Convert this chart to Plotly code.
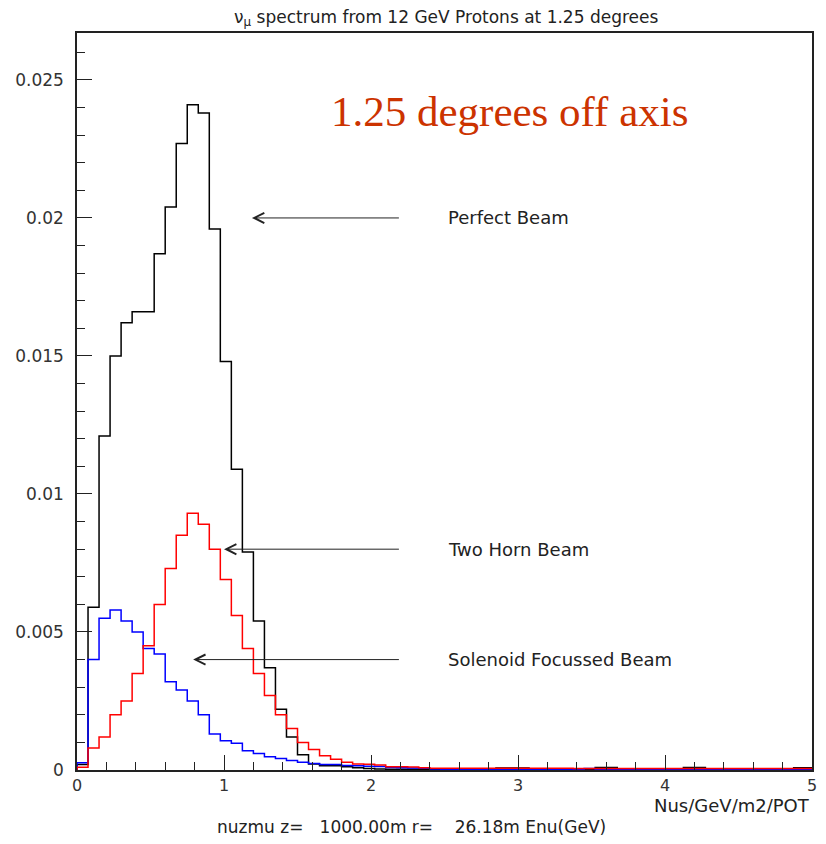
import numpy as np
import plotly.graph_objects as go

bin_width = 0.075  # GeV

perfect_beam = [0.0002, 0.0059, 0.0121, 0.0150, 0.0162, 0.0166, 0.0166, 0.0187, 0.0204, 0.0227,
                0.0241, 0.0238, 0.0196, 0.0148, 0.0109, 0.0079, 0.0054, 0.0037, 0.0022, 0.0012,
                0.00055, 0.00022, 0.00015, 0.00015, 0.00012, 0.00008, 0.00005, 0.00004, 0.00003, 0.00003,
                0.00003, 0.00003, 0.00003, 0.00003, 0.00003, 0.00003, 0.00003, 0.00003, 0.00007, 0.00007,
                0.00007, 0.00003, 0.00003, 0.00003, 0.00003, 0.00003, 0.00003, 0.00009, 0.00009, 0.00003,
                0.00003, 0.00003, 0.00003, 0.00003, 0.00003, 0.00009, 0.00009, 0.00003, 0.00003, 0.00003,
                0.00003, 0.00003, 0.00003, 0.00003, 0.00003, 0.00008, 0.00008]

two_horn_beam = [0.0001, 0.0008, 0.0012, 0.0020, 0.0025, 0.0035, 0.0045, 0.0060, 0.0073, 0.0085,
                 0.0093, 0.0089, 0.0080, 0.0069, 0.0056, 0.0044, 0.0035, 0.0027, 0.0020, 0.0015,
                 0.0010, 0.00074, 0.00052, 0.00039, 0.00028, 0.00022, 0.00021, 0.00018, 0.00012, 0.00012,
                 0.00011, 0.00008, 0.00006, 0.00006, 0.00006, 0.00006, 0.00006, 0.00006, 0.00006, 0.00006,
                 0.00006, 0.00006, 0.00006, 0.00006, 0.00006, 0.00005, 0.00005, 0.00005, 0.00005, 0.00005,
                 0.00005, 0.00005, 0.00005, 0.00005, 0.00005, 0.00005, 0.00005, 0.00005, 0.00005, 0.00005,
                 0.00005, 0.00005, 0.00005, 0.00005, 0.00005, 0.00005, 0.00005]

solenoid_beam = [0.00026, 0.0040, 0.0055, 0.0058, 0.0054, 0.0050, 0.0044, 0.0042, 0.0032, 0.0029,
                 0.0025, 0.0020, 0.0013, 0.00106, 0.00097, 0.0007, 0.0006, 0.00048, 0.00042, 0.00034,
                 0.00028, 0.00024, 0.0002, 0.0002, 0.00016, 0.00015, 0.00014, 0.00013, 0.00009, 0.00008,
                 0.00007, 0.00006, 0.00004, 0.00003, 0.00003, 0.00003, 0.00003, 0.00003, 0.00003, 0.00003,
                 0.00003, 0.00003, 0.00003, 0.00003, 0.00003, 0.00003, 0.00005, 0.00002, 0.00002, 0.00002,
                 0.00002, 0.00002, 0.00002, 0.00002, 0.00002, 0.00002, 0.00002, 0.00002, 0.00002, 0.00002,
                 0.00002, 0.00002, 0.00002, 0.00002, 0.00002, 0.00002, 0.00002]

labels = ["Perfect Beam", "Two Horn Beam", "Solenoid Focussed Beam"]
label_y = [0.020, 0.008, 0.004]
arrow_tip_x = [1.19, 1.0, 0.79]
arrow_tail_x = 2.2
label_x = 2.51

x_tickvals = [0, 1, 2, 3, 4, 5]
y_tickvals = [0, 0.005, 0.01, 0.015, 0.02, 0.025]
y_ticktext = ["0", "0.005", "0.01", "0.015", "0.02", "0.025"]


def step_xy(vals):
    n = len(vals)
    edges = np.arange(n + 1) * bin_width
    xs = [0.0] + list(edges)
    ys = [0.0] + list(vals) + [vals[-1]]
    return xs, ys


fig = go.Figure()
for vals, col in [(perfect_beam, "#000000"), (solenoid_beam, "#0000ff"), (two_horn_beam, "#ff0000")]:
    xs, ys = step_xy(vals)
    fig.add_trace(go.Scatter(x=xs, y=ys, mode="lines", line=dict(color=col, width=1.5, shape="hv"),
                             showlegend=False, hoverinfo="skip"))

FAM = "DejaVu Sans, Verdana, sans-serif"
font_root = dict(family=FAM, size=18, color="#222222")
font_small = dict(family=FAM, size=17, color="#222222")
font_tick = dict(family=FAM, size=17, color="#333333")
font_xtick = dict(family=FAM, size=16, color="#333333")

annotations = []
for lab, ly, tip in zip(labels, label_y, arrow_tip_x):
    annotations.append(dict(x=tip, y=ly, ax=arrow_tail_x, ay=ly, xref="x", yref="y", axref="x", ayref="y",
                            text="", showarrow=True, arrowhead=5, arrowsize=2, arrowwidth=1,
                            arrowcolor="#222222"))
    annotations.append(dict(x=label_x, y=ly, xref="x", yref="y", text=lab, showarrow=False,
                            xanchor="left", yanchor="middle", font=font_root))

annotations.append(dict(x=0.589, y=0.893, xref="paper", yref="paper", text="1.25 degrees off axis",
                        showarrow=False, xanchor="center", yanchor="middle",
                        font=dict(family="Liberation Serif, Times New Roman, serif", size=43, color="#cc3300")))
annotations.append(dict(x=1.0, y=-0.0475, xref="paper", yref="paper", text="Nus/GeV/m2/POT",
                        showarrow=False, xanchor="right", yanchor="middle",
                        font=dict(family=FAM, size=18, color="#222222")))
annotations.append(dict(x=0.455, y=-0.0772, xref="paper", yref="paper",
                        text="nuzmu z=\u00a0\u00a0\u00a01000.00m r=\u00a0\u00a0\u00a0\u00a026.18m Enu(GeV)",
                        showarrow=False, xanchor="center", yanchor="middle", font=font_small))

fig.update_layout(
    width=810, height=828,
    margin=dict(l=69, r=6, t=25, b=66, autoexpand=False),
    paper_bgcolor="white", plot_bgcolor="white",
    title=dict(text="\u03bd<sub>\u03bc</sub> spectrum from 12 GeV Protons at 1.25 degrees",
               x=0.541, xanchor="center", y=0.9895, yanchor="middle",
               font=dict(family=FAM, size=17, color="#222222")),
    annotations=annotations,
)
fig.update_xaxes(range=[0, 5], tickvals=x_tickvals, ticks="inside", ticklen=15, tickwidth=1,
                 tickcolor="#222222", showline=True, linecolor="#222222", linewidth=1.5, mirror=True,
                 showgrid=False, zeroline=False, tickfont=font_xtick, automargin=False,
                 minor=dict(dtick=0.2, ticks="inside", ticklen=8, tickcolor="#222222", showgrid=False))
fig.update_yaxes(range=[0, 0.0267], tickvals=y_tickvals, ticktext=y_ticktext, ticks="inside", ticklen=15,
                 tickwidth=1, tickcolor="#222222", showline=True, linecolor="#222222", linewidth=1.5,
                 mirror=True, showgrid=False, zeroline=False, tickfont=font_tick, automargin=False,
                 ticklabelstandoff=8,
                 minor=dict(dtick=0.001, ticks="inside", ticklen=8, tickcolor="#222222", showgrid=False))

fig.write_html("out.html")
